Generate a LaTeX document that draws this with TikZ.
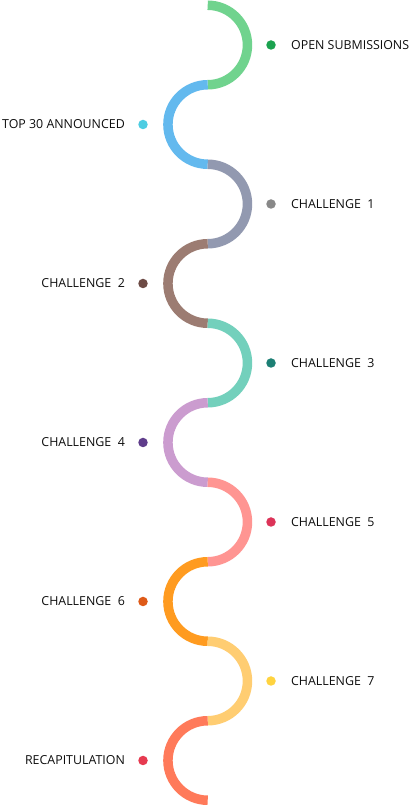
\documentclass[tikz,border=0pt]{standalone}
\usepackage{xcolor}
\usepackage{fontspec}
\setmainfont{Open Sans}
\usepackage{tikz}
\usetikzlibrary{positioning}

\definecolor{arcA}{HTML}{70D38E}
\definecolor{arcB}{HTML}{63B9EE}
\definecolor{arcC}{HTML}{9299B0}
\definecolor{arcD}{HTML}{9C7C72}
\definecolor{arcE}{HTML}{73D0BC}
\definecolor{arcF}{HTML}{CB9CCF}
\definecolor{arcG}{HTML}{FF9592}
\definecolor{arcH}{HTML}{FF9B20}
\definecolor{arcI}{HTML}{FFCD72}
\definecolor{arcJ}{HTML}{FF7A5A}
\definecolor{dotA}{HTML}{1BA24F}
\definecolor{dotB}{HTML}{4ECDE2}
\definecolor{dotC}{HTML}{888888}
\definecolor{dotD}{HTML}{6D4B45}
\definecolor{dotE}{HTML}{1C7F74}
\definecolor{dotF}{HTML}{5F3D8B}
\definecolor{dotG}{HTML}{DC3358}
\definecolor{dotH}{HTML}{DE5A18}
\definecolor{dotI}{HTML}{FFD33F}
\definecolor{dotJ}{HTML}{E63A50}
\definecolor{inktext}{HTML}{0D0D0D}

\begin{document}
\begin{tikzpicture}[x=1pt, y=1pt,
    wave/.style={line width=9.5pt},
    stagedot/.style={circle, fill, inner sep=0pt, minimum size=9.5pt},
    stagetext/.style={inner sep=0pt, text=inktext, font=\fontsize{12.4}{14}\selectfont}]
  \useasboundingbox (0,0) rectangle (408,806);

  % Vague
  \draw[wave, arcA] (207.7,800.75) arc[start angle=90, end angle=-90, radius=39.75];
  \draw[wave, arcB] (207.7,721.25) arc[start angle=90, end angle=270, radius=39.75];
  \draw[wave, arcC] (207.7,641.75) arc[start angle=90, end angle=-90, radius=39.75];
  \draw[wave, arcD] (207.7,562.25) arc[start angle=90, end angle=270, radius=39.75];
  \draw[wave, arcE] (207.7,482.75) arc[start angle=90, end angle=-90, radius=39.75];
  \draw[wave, arcF] (207.7,403.25) arc[start angle=90, end angle=270, radius=39.75];
  \draw[wave, arcG] (207.7,323.75) arc[start angle=90, end angle=-90, radius=39.75];
  \draw[wave, arcH] (207.7,244.25) arc[start angle=90, end angle=270, radius=39.75];
  \draw[wave, arcI] (207.7,164.75) arc[start angle=90, end angle=-90, radius=39.75];
  \draw[wave, arcJ] (207.7,85.25) arc[start angle=90, end angle=270, radius=39.75];

  % Points
  \node[stagedot, dotA] (d0) at (271,761) {};
  \node[stagedot, dotB] (d1) at (143,681.5) {};
  \node[stagedot, dotC] (d2) at (271,602) {};
  \node[stagedot, dotD] (d3) at (143,522.5) {};
  \node[stagedot, dotE] (d4) at (271,443) {};
  \node[stagedot, dotF] (d5) at (143,363.5) {};
  \node[stagedot, dotG] (d6) at (271,284) {};
  \node[stagedot, dotH] (d7) at (143,204.5) {};
  \node[stagedot, dotI] (d8) at (271,125) {};
  \node[stagedot, dotJ] (d9) at (143,45.5) {};

  % Etapes
  \node[stagetext, right=15pt of d0] (t0) {OPEN SUBMISSIONS};
  \node[stagetext, left=13pt of d1] (t1) {TOP 30 ANNOUNCED};
  \node[stagetext, right=15pt of d2] (t2) {CHALLENGE\ \ 1};
  \node[stagetext, left=13pt of d3] (t3) {CHALLENGE\ \ 2};
  \node[stagetext, right=15pt of d4] (t4) {CHALLENGE\ \ 3};
  \node[stagetext, left=13pt of d5] (t5) {CHALLENGE\ \ 4};
  \node[stagetext, right=15pt of d6] (t6) {CHALLENGE\ \ 5};
  \node[stagetext, left=13pt of d7] (t7) {CHALLENGE\ \ 6};
  \node[stagetext, right=15pt of d8] (t8) {CHALLENGE\ \ 7};
  \node[stagetext, left=13pt of d9] (t9) {RECAPITULATION};
\end{tikzpicture}
\end{document}
